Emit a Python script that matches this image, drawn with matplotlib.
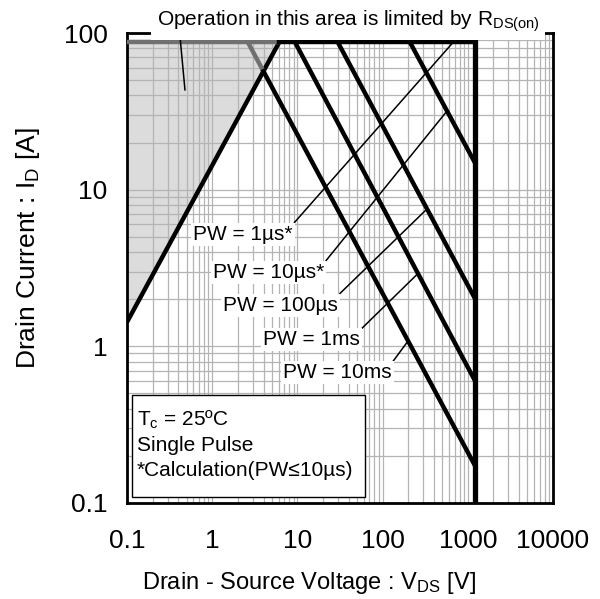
import numpy as np
import matplotlib
matplotlib.use('Agg')
import matplotlib.pyplot as plt
from matplotlib.patches import Rectangle
from matplotlib.ticker import LogLocator, NullFormatter

plt.rcParams['font.family'] = ['Liberation Sans', 'DejaVu Sans']
plt.rcParams['mathtext.fontset'] = 'custom'
plt.rcParams['mathtext.rm'] = 'Liberation Sans'
plt.rcParams['mathtext.it'] = 'Liberation Sans:italic'

# SOA limits
i_max = 87.0     # pulsed drain current limit [A]
v_max = 1200.0   # drain-source voltage limit [V]
r_on = 0.07      # R_DS(on) line [ohm]

# pulse lines: V where each leaves the current limit, I at v_max
pw_names = ['PW = 10µs*', 'PW = 100µs', 'PW = 1ms', 'PW = 10ms']
v_start = [210.0, 29.9, 9.4, 2.63]
i_end = [15.0, 2.04, 0.61, 0.175]
# voltage on each pulse line where its label points
leader_v = [570.0, 332.0, 260.0, 199.0]
# the 1us label points at the current limit itself
pw1_name = 'PW = 1µs*'
pw1_v = 670.0

x_ticks = [0.1, 1, 10, 100, 1000, 10000]
x_labels = ['0.1', '1', '10', '100', '1000', '10000']
y_ticks = [0.1, 1, 10, 100]
y_labels = ['0.1', '1', '10', '100']

def pulse_line(vs, ie):
    m = np.log(ie / i_max) / np.log(v_max / vs)
    return lambda v: i_max * (np.asarray(v) / vs) ** m, m

fig = plt.figure(figsize=(6, 5.99), dpi=100)
ax = fig.add_axes([0.2117, 0.1603, 0.71, 0.7846])
ax.set_xscale('log')
ax.set_yscale('log')
ax.set_xlim(0.1, 10000)
ax.set_ylim(0.1, 100)

# R_DS(on) limited area
v_ron = i_max * r_on
vv = np.array([0.1, v_ron])
ax.fill_between(vv, vv / r_on, i_max, color='#dcdcdc', lw=0, zorder=1)
ax.plot(vv, vv / r_on, color='black', lw=3.2, solid_capstyle='butt', zorder=3)
ax.plot([0.1, v_ron], [i_max, i_max], color='#707070', lw=3.2, zorder=3)
ax.plot([v_ron, v_max], [i_max, i_max], color='black', lw=3.2, zorder=4)
ax.plot([v_max, v_max], [0.1, i_max], color='black', lw=3.8, zorder=4)

gray = '#707070'
for vs, ie in zip(v_start, i_end):
    f, m = pulse_line(vs, ie)
    if vs < v_ron:
        # part hidden in the R_DS(on) area is drawn gray
        vx = np.exp((np.log(i_max) + np.log(r_on) - m * np.log(vs)) / (1 - m))
        ax.plot([vs, vx], f([vs, vx]), color=gray, lw=3.2, zorder=3)
        ax.plot([vx, v_max], f([vx, v_max]), color='black', lw=3.2, zorder=4)
    else:
        ax.plot([vs, v_max], f([vs, v_max]), color='black', lw=3.2, zorder=4)

# labels with leader lines
box = dict(boxstyle='square,pad=0.1', fc='white', ec='none')
arrow = dict(arrowstyle='-', lw=1.1, color='black', relpos=(1, 1),
             shrinkA=0, shrinkB=0)
ax.annotate(pw1_name, xy=(pw1_v, i_max), xytext=(0.155, 0.572),
            textcoords='axes fraction', ha='left', va='center', fontsize=15,
            bbox=box, arrowprops=arrow, zorder=6)
label_pos = [(0.202, 0.491), (0.225, 0.421), (0.319, 0.347), (0.366, 0.277)]
for name, vs, ie, lv, pos in zip(pw_names, v_start, i_end, leader_v, label_pos):
    f, m = pulse_line(vs, ie)
    ax.annotate(name, xy=(lv, f(lv)), xytext=pos, textcoords='axes fraction',
                ha='left', va='center', fontsize=15, bbox=box,
                arrowprops=arrow, zorder=6)

# note on top
ax.text(0.519, 1.024, 'Operation in this area is limited by R$_{\\mathrm{DS(on)}}$',
        transform=ax.transAxes, ha='center', va='center', fontsize=15,
        bbox=dict(boxstyle='square,pad=0.25', fc='white', ec='none'),
        zorder=10, clip_on=False)
ax.plot([0.124, 0.136], [0.996, 0.879], transform=ax.transAxes,
        color='black', lw=1.1, zorder=6, clip_on=False)

# conditions box
ax.add_patch(Rectangle((0.012, 0.013), 0.547, 0.217, transform=ax.transAxes,
                       fc='white', ec='black', lw=1, zorder=7))
for txt, y in zip(['T$_{\\mathrm{c}}$ = 25ºC', 'Single Pulse',
                   '*Calculation(PW≤10µs)'], [0.177, 0.123, 0.070]):
    ax.text(0.0235, y, txt, transform=ax.transAxes, ha='left', va='center',
            fontsize=15, zorder=8)

# axes styling
ax.set_xticks(x_ticks)
ax.set_xticklabels(x_labels)
ax.set_yticks(y_ticks)
ax.set_yticklabels(y_labels)
ax.xaxis.set_minor_locator(LogLocator(base=10, subs=np.arange(2, 10)))
ax.yaxis.set_minor_locator(LogLocator(base=10, subs=np.arange(2, 10)))
ax.xaxis.set_minor_formatter(NullFormatter())
ax.yaxis.set_minor_formatter(NullFormatter())
ax.tick_params(which='both', length=0, labelsize=19)
ax.tick_params(axis='x', pad=19)
ax.tick_params(axis='y', pad=14)
ax.grid(which='both', color='#b4b4b4', lw=0.9)
for s in ax.spines.values():
    s.set_linewidth(2)

ax.set_xlabel('Drain - Source Voltage : V$_{\\mathrm{DS}}$ [V]', fontsize=17)
ax.set_ylabel('Drain Current : I$_{\\mathrm{D}}$ [A]', fontsize=19)
ax.xaxis.set_label_coords(0.427, -0.143)
ax.yaxis.set_label_coords(-0.2, 0.543)

fig.savefig('out.png', dpi=100)
